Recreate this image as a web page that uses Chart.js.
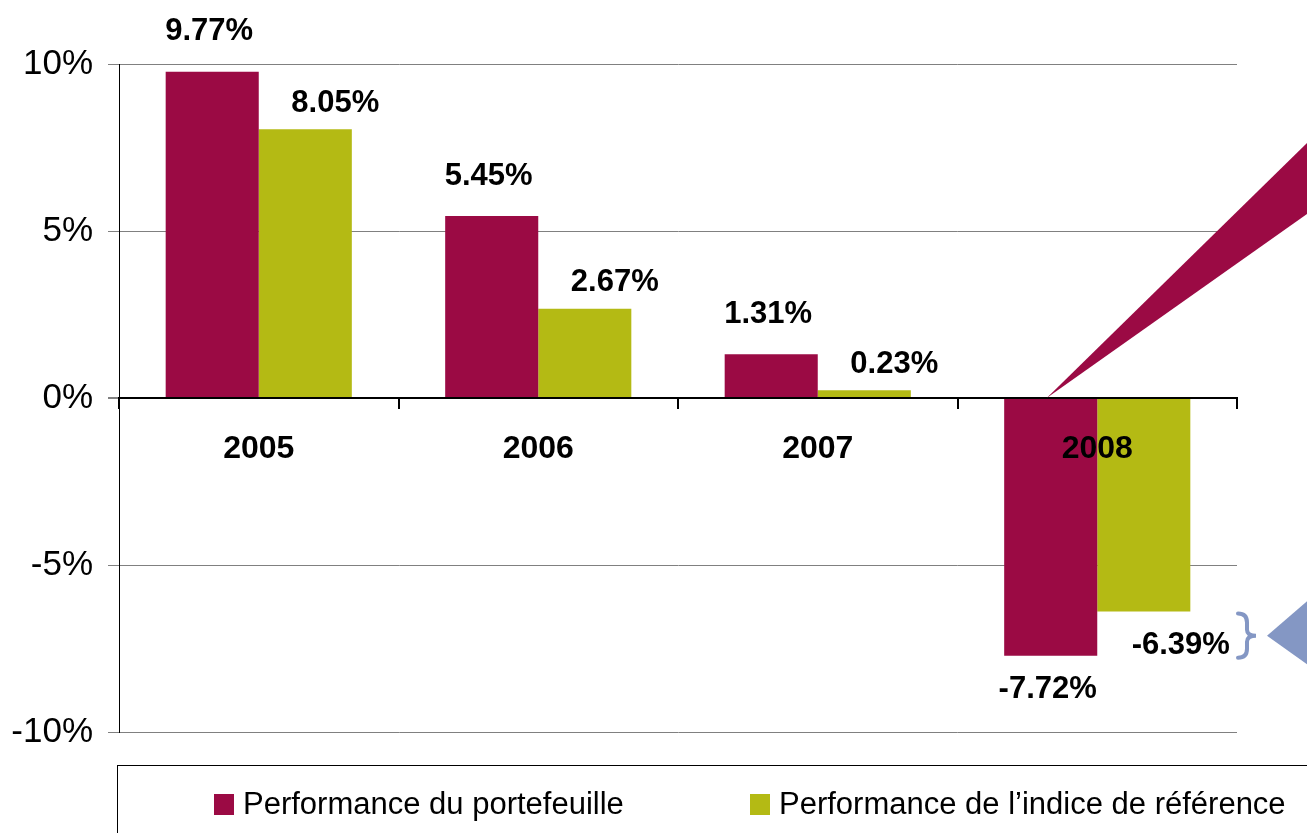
<!DOCTYPE html>
<html lang="fr">
<head>
<meta charset="utf-8">
<title>Performance du portefeuille</title>
<script src="https://cdn.jsdelivr.net/npm/chart.js@4.4.1/dist/chart.umd.min.js"></script>
<style>
    html, body { margin: 0; padding: 0; background: #fff; }
    #wrap { position: relative; width: 1307px; height: 833px; overflow: hidden; }
</style>
</head>
<body>
<div id="wrap"><canvas id="perfChart"></canvas></div>
<script>
// ==================== DATA ====================
const years = ['2005', '2006', '2007', '2008'];
const portfolioPerf = [9.77, 5.45, 1.31, -7.72];
const benchmarkPerf = [8.05, 2.67, 0.23, -6.39];
const seriesNames = ['Performance du portefeuille', 'Performance de l\u2019indice de référence'];
const yTicks = [-10, -5, 0, 5, 10];

const RED = '#9B0A44';
const GREEN = '#B4BA14';
const BLUE = '#8497C4';
const FONT = '"Liberation Sans", Arial, sans-serif';

// value labels above / below each bar
const valueLabels = {
    id: 'valueLabels',
    afterDatasetsDraw(chart) {
        const ctx = chart.ctx;
        ctx.save();
        ctx.font = `bold 31px ${FONT}`;
        ctx.fillStyle = '#000';
        ctx.textAlign = 'center';
        ctx.textBaseline = 'middle';
        chart.data.datasets.forEach((ds, i) => {
            chart.getDatasetMeta(i).data.forEach((bar, j) => {
                const v = ds.data[j];
                let x = bar.x + (i === 0 ? -3 : 30);
                let y;
                if (v >= 0) {
                    y = bar.y - (i === 0 ? 40 : 26);
                } else {
                    y = bar.y + 34;
                    if (i === 1) x = bar.x + 37;
                }
                ctx.fillText(v.toFixed(2) + '%', x, y);
            });
        });
        ctx.restore();
    }
};

// wedge, brace, arrow and the boxed legend
const decorations = {
    id: 'decorations',
    afterDraw(chart) {
        const ctx = chart.ctx;
        const yScale = chart.scales.y;
        const area = chart.chartArea;
        const zeroY = yScale.getPixelForValue(0);
        const last = years.length - 1;
        const redBar = chart.getDatasetMeta(0).data[last];
        const W = chart.width;

        ctx.save();
        // red wedge
        ctx.fillStyle = RED;
        ctx.beginPath();
        ctx.moveTo(redBar.x - 4, zeroY);
        ctx.lineTo(W, 143);
        ctx.lineTo(W, 214);
        ctx.closePath();
        ctx.fill();

        // blue brace
        const yTop = yScale.getPixelForValue(benchmarkPerf[last]);
        const yBot = yScale.getPixelForValue(portfolioPerf[last]) + 4;
        const yMid = (yTop + yBot) / 2;
        const bx = area.right + 1;
        ctx.strokeStyle = BLUE;
        ctx.lineWidth = 4;
        ctx.lineCap = 'round';
        ctx.beginPath();
        ctx.moveTo(bx, yTop + 2);
        ctx.quadraticCurveTo(bx + 9, yTop + 2, bx + 9, yTop + 11);
        ctx.lineTo(bx + 9, yMid - 6);
        ctx.quadraticCurveTo(bx + 9, yMid, bx + 18, yMid);
        ctx.quadraticCurveTo(bx + 9, yMid, bx + 9, yMid + 6);
        ctx.lineTo(bx + 9, yBot - 11);
        ctx.quadraticCurveTo(bx + 9, yBot - 2, bx, yBot - 2);
        ctx.stroke();

        // blue arrow head
        ctx.fillStyle = BLUE;
        ctx.beginPath();
        ctx.moveTo(bx + 29, yMid);
        ctx.lineTo(W + 2, yMid - 36);
        ctx.lineTo(W + 2, yMid + 30);
        ctx.closePath();
        ctx.fill();

        // legend box
        ctx.strokeStyle = '#000';
        ctx.lineWidth = 1;
        ctx.strokeRect(117.5, 765.5, W, 100);
        const items = [
            { x: 214, color: RED },
            { x: 750, color: GREEN }
        ];
        ctx.font = `31px ${FONT}`;
        ctx.textAlign = 'left';
        ctx.textBaseline = 'middle';
        items.forEach((it, i) => {
            ctx.fillStyle = it.color;
            ctx.fillRect(it.x, 794, 20, 21);
            ctx.fillStyle = '#000';
            ctx.fillText(chart.data.datasets[i].label, it.x + 29, 805);
        });
        ctx.restore();
    }
};

function renderChart() {
    const ctx = document.getElementById('perfChart').getContext('2d');
    new Chart(ctx, {
        type: 'bar',
        data: {
            labels: years,
            datasets: [
                { label: seriesNames[0], data: portfolioPerf, backgroundColor: RED },
                { label: seriesNames[1], data: benchmarkPerf, backgroundColor: GREEN }
            ]
        },
        options: {
            responsive: true,
            maintainAspectRatio: false,
            animation: false,
            datasets: { bar: { categoryPercentage: 0.666, barPercentage: 1.0 } },
            layout: { padding: { top: 64, right: 70, bottom: 101, left: 0 } },
            plugins: {
                legend: { display: false },
                tooltip: { enabled: false }
            },
            scales: {
                x: {
                    position: { y: 0 },
                    afterFit: scale => { scale.height = 0; },
                    grid: {
                        offset: true,
                        drawOnChartArea: false,
                        drawTicks: true,
                        tickLength: 10,
                        tickColor: '#000',
                        lineWidth: 2,
                        z: 1
                    },
                    border: { display: true, color: '#000', width: 2, z: 1 },
                    ticks: {
                        color: '#000',
                        padding: 22,
                        autoSkip: false,
                        z: 1,
                        font: { family: FONT, size: 32, weight: 'bold' }
                    }
                },
                y: {
                    min: yTicks[0],
                    max: yTicks[yTicks.length - 1],
                    afterFit: scale => { scale.width = 119; },
                    afterBuildTicks: scale => { scale.ticks = yTicks.map(v => ({ value: v })); },
                    grid: {
                        color: c => (c.tick && c.tick.value === 0 ? '#000' : '#808080'),
                        lineWidth: c => (c.tick && c.tick.value === 0 ? 2 : 1),
                        tickLength: 11,
                        tickColor: '#808080'
                    },
                    border: { display: true, color: '#000', width: 1 },
                    ticks: {
                        color: '#000',
                        padding: 15,
                        font: { family: FONT, size: 35 },
                        callback: v => v + '%'
                    }
                }
            }
        },
        plugins: [valueLabels, decorations]
    });
}

document.addEventListener('DOMContentLoaded', renderChart);
</script>
</body>
</html>
